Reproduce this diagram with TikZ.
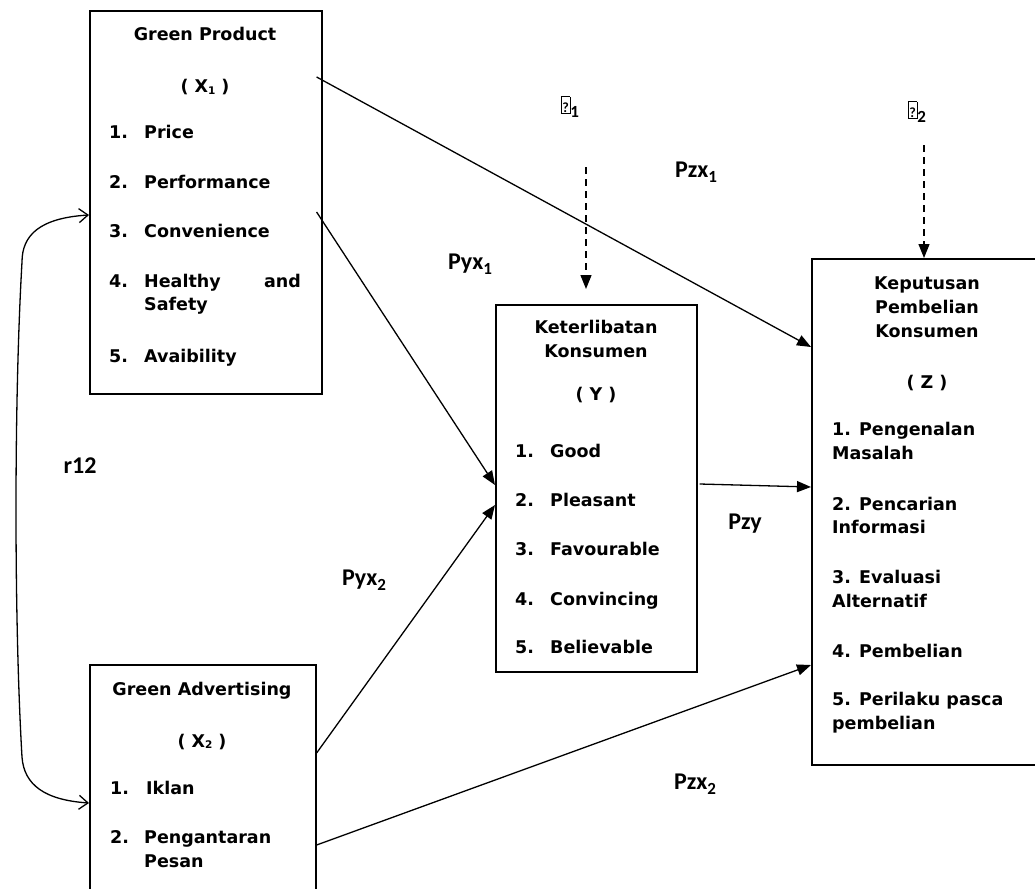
\documentclass[tikz,border=0pt]{standalone}
\usepackage{fontspec}
\setmainfont{DejaVu Sans}
\newfontfamily\lblfont{Carlito}
\usetikzlibrary{arrows.meta,calc}
\newcommand\bx{\fontsize{17.5}{20}\selectfont\bfseries}
\newcommand\lb{\lblfont\fontsize{24}{28}\selectfont\bfseries}
\newcommand\mysb[1]{\raisebox{-1.5pt}{\fontsize{10.5}{10.5}\selectfont #1}}
\newcommand\lsb[1]{\raisebox{-5pt}{\fontsize{17}{17}\selectfont #1}}
\newcommand\qbox{{\setlength\fboxsep{0.6pt}\setlength\fboxrule{0.9pt}\fbox{\rule{0pt}{15pt}\lblfont\fontsize{14}{14}\selectfont\bfseries ?}}}
\begin{document}
\begin{tikzpicture}[x=1pt,y=-1pt,
  box/.style={draw, line width=1.6pt, inner sep=0pt, anchor=north west},
  t/.style={inner sep=0pt, anchor=base west, font=\bx},
  te/.style={inner sep=0pt, anchor=base east, font=\bx},
  tc/.style={inner sep=0pt, anchor=base, font=\bx},
  lab/.style={inner sep=0pt, font=\lb},
  arr/.style={line width=1.3pt, -{Triangle[length=14pt,width=11pt]}},
  dsh/.style={arr, dash pattern=on 7pt off 5pt},
  corr/.style={line width=1.3pt, {Straight Barb[length=9pt,width=14pt]}-{Straight Barb[length=9pt,width=14pt]}}]
\useasboundingbox (0,0) rectangle (1035,888);
\clip (0,0) rectangle (1035,888);
% boxes
\node[box, minimum width=232pt, minimum height=383pt] (gp) at (89,10) {};
\node[box, minimum width=226pt, minimum height=260pt] (ga) at (89,664) {};
\node[box, minimum width=201pt, minimum height=367pt] (ky) at (495,304) {};
\node[box, minimum width=250pt, minimum height=506pt] (kz) at (811,258) {};
% Green Product text
\node[tc] (gpt) at (205,41) {Green Product};
\node[tc] (gpx) at (205,93) {( X\mysb{1} )};
\node[t] (gpn1) at (109,139) {1.}; \node[t] (gpi1) at (144,139) {Price};
\node[t] (gpn2) at (109,188) {2.}; \node[t] (gpi2) at (144,188) {Performance};
\node[t] (gpn3) at (109,237) {3.}; \node[t] (gpi3) at (144,237) {Convenience};
\node[t] (gpn4) at (109,287) {4.}; \node[t] (gpi4) at (144,287) {Healthy};
\node[te] (gpi4b) at (301,287) {and}; \node[t] (gpi4c) at (144,310) {Safety};
\node[t] (gpn5) at (109,362) {5.}; \node[t] (gpi5) at (144,362) {Avaibility};
% Green Advertising text
\node[tc] (gat) at (202,695) {Green Advertising};
\node[tc] (gax) at (202,747) {( X\mysb{2} )};
\node[t] (gan1) at (110,794) {1.}; \node[t] (gai1) at (146,794) {Iklan};
\node[t] (gan2) at (110,843) {2.}; \node[t] (gai2) at (144,843) {Pengantaran};
\node[t] (gai2b) at (144,867) {Pesan};
% Keterlibatan text
\node[tc] (kyt1) at (596,333) {Keterlibatan};
\node[tc] (kyt2) at (596,357) {Konsumen};
\node[tc] (kyx) at (596,400) {( Y )};
\node[t] (kyn1) at (515,457) {1.}; \node[t] (kyi1) at (550,457) {Good};
\node[t] (kyn2) at (515,506) {2.}; \node[t] (kyi2) at (550,506) {Pleasant};
\node[t] (kyn3) at (515,555) {3.}; \node[t] (kyi3) at (550,555) {Favourable};
\node[t] (kyn4) at (515,605) {4.}; \node[t] (kyi4) at (550,605) {Convincing};
\node[t] (kyn5) at (515,653) {5.}; \node[t] (kyi5) at (550,653) {Believable};
% Keputusan text
\node[tc] (kzt1) at (927,289) {Keputusan};
\node[tc] (kzt2) at (927,313) {Pembelian};
\node[tc] (kzt3) at (927,337) {Konsumen};
\node[tc] (kzx) at (927,388) {( Z )};
\node[t] (kzi1) at (832,435) {1. Pengenalan}; \node[t] (kzi1b) at (832,459) {Masalah};
\node[t] (kzi2) at (832,510) {2. Pencarian}; \node[t] (kzi2b) at (832,533) {Informasi};
\node[t] (kzi3) at (832,583) {3. Evaluasi}; \node[t] (kzi3b) at (832,607) {Alternatif};
\node[t] (kzi4) at (832,657) {4. Pembelian};
\node[t] (kzi5) at (832,705) {5. Perilaku pasca}; \node[t] (kzi5b) at (832,729) {pembelian};
% labels
\node[lab] (e1) at (570,107) {\qbox\lsb{1}};
\node[lab] (e2) at (917,112) {\qbox\lsb{2}};
\node[lab] (pzx1) at (696,172) {Pzx\lsb{1}};
\node[lab] (pyx1) at (470,264) {Pyx\lsb{1}};
\node[lab] (r12) at (80,466) {r12};
\node[lab] (pzy) at (745,524) {Pzy};
\node[lab] (pyx2) at (364,580) {Pyx\lsb{2}};
\node[lab] (pzx2) at (695,784) {Pzx\lsb{2}};
% connectors
\draw[arr] ($(gp.north east)+(-6,67)$) -- ($(kz.north west)+(0,89)$);
\draw[arr] ($(gp.north east)+(-6,202)$) -- ($(ky.north west)+(0,181)$);
\draw[arr] ($(ga.north east)+(0,89)$) -- ($(ky.north west)+(0,201)$);
\draw[arr] ($(ga.north east)+(0,181)$) -- ($(kz.north west)+(0,407)$);
\draw[arr] ($(ky.north east)+(2,180)$) -- ($(kz.north west)+(0,229)$);
\coordinate (e1s) at (586,167);
\coordinate (e1e) at (586,289);
\draw[dsh] (e1s) -- (e1e);
\coordinate (e2s) at (924,145);
\draw[dsh] (e2s) -- ($(kz.north west)+(113,0)$);
\draw[corr] ($(gp.north west)+(0,205)$) .. controls (40,218) and (22,235) .. (22,262)
  .. controls (14,400) and (14,620) .. (22,757)
  .. controls (24,785) and (45,800) .. ($(ga.north west)+(0,139)$);
\end{tikzpicture}
\end{document}
